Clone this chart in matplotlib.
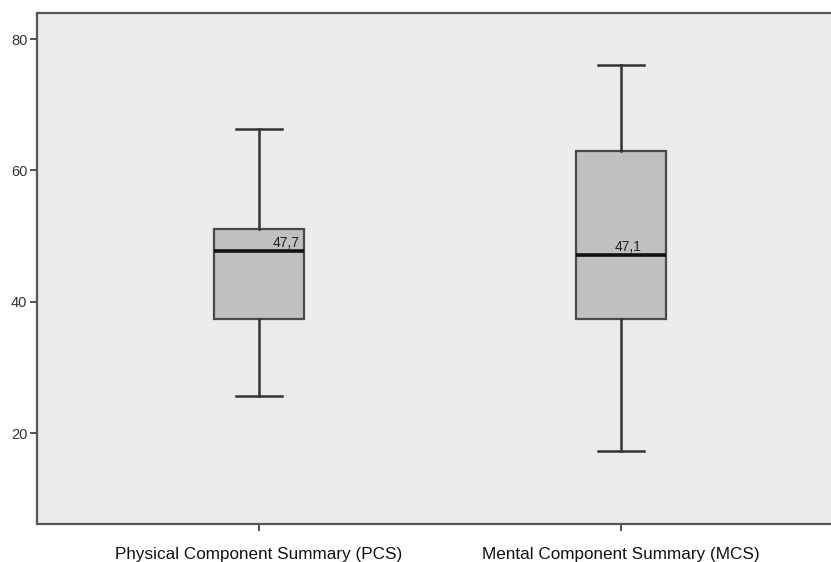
import matplotlib
matplotlib.use("Agg")
import matplotlib.pyplot as plt

# box statistics
labels = ["Physical Component Summary (PCS)", "Mental Component Summary (MCS)"]
whislo = [25.7, 17.3]
q1 = [37.4, 37.4]
med = [47.7, 47.1]
q3 = [51.1, 62.9]
whishi = [66.3, 76.0]
med_text = ["47,7", "47,1"]

plt.rcParams['font.family'] = ['Liberation Sans', 'DejaVu Sans']

fig = plt.figure(figsize=(8.31, 5.62), dpi=100)
ax = fig.add_axes([37/831, 38/562, 806/831, 511/562])
ax.set_facecolor("#ebebeb")

stats = []
for i in range(len(labels)):
    stats.append({"whislo": whislo[i], "q1": q1[i], "med": med[i],
                  "q3": q3[i], "whishi": whishi[i], "fliers": [], "label": labels[i]})

pos = [1, 2]
ax.bxp(stats, positions=pos, widths=0.25, patch_artist=True, showfliers=False,
       boxprops=dict(facecolor="#c0c0c0", edgecolor="#4a4a4a", linewidth=1.6),
       whiskerprops=dict(color="#333333", linewidth=1.8),
       capprops=dict(color="#333333", linewidth=1.8),
       medianprops=dict(color="#111111", linewidth=2.6),
       capwidths=0.125)

# median value labels
offsets = [0.075, 0.02]
for p, m, t, o in zip(pos, med, med_text, offsets):
    ax.text(p + o, m + 0.25, t, ha="center", va="bottom", fontsize=10, color="#222222")

ax.set_xlim(0.387, 2.613)
ax.set_ylim(6.19, 83.96)
ax.set_yticks([20, 40, 60, 80])
ax.set_xticks(pos)
ax.set_xticklabels(labels, fontsize=12.3)
ax.tick_params(axis="y", labelsize=10.5, length=5, width=1.3, color="#444444", labelcolor="#333333", pad=2)
ax.tick_params(axis="x", length=5, width=1.3, color="#444444", labelcolor="#111111", pad=11.5)

for s in ["left", "bottom", "top"]:
    ax.spines[s].set_color("#555555")
    ax.spines[s].set_linewidth(1.6)
ax.spines["right"].set_visible(False)

plt.savefig("out.png", dpi=100)
plt.close()
